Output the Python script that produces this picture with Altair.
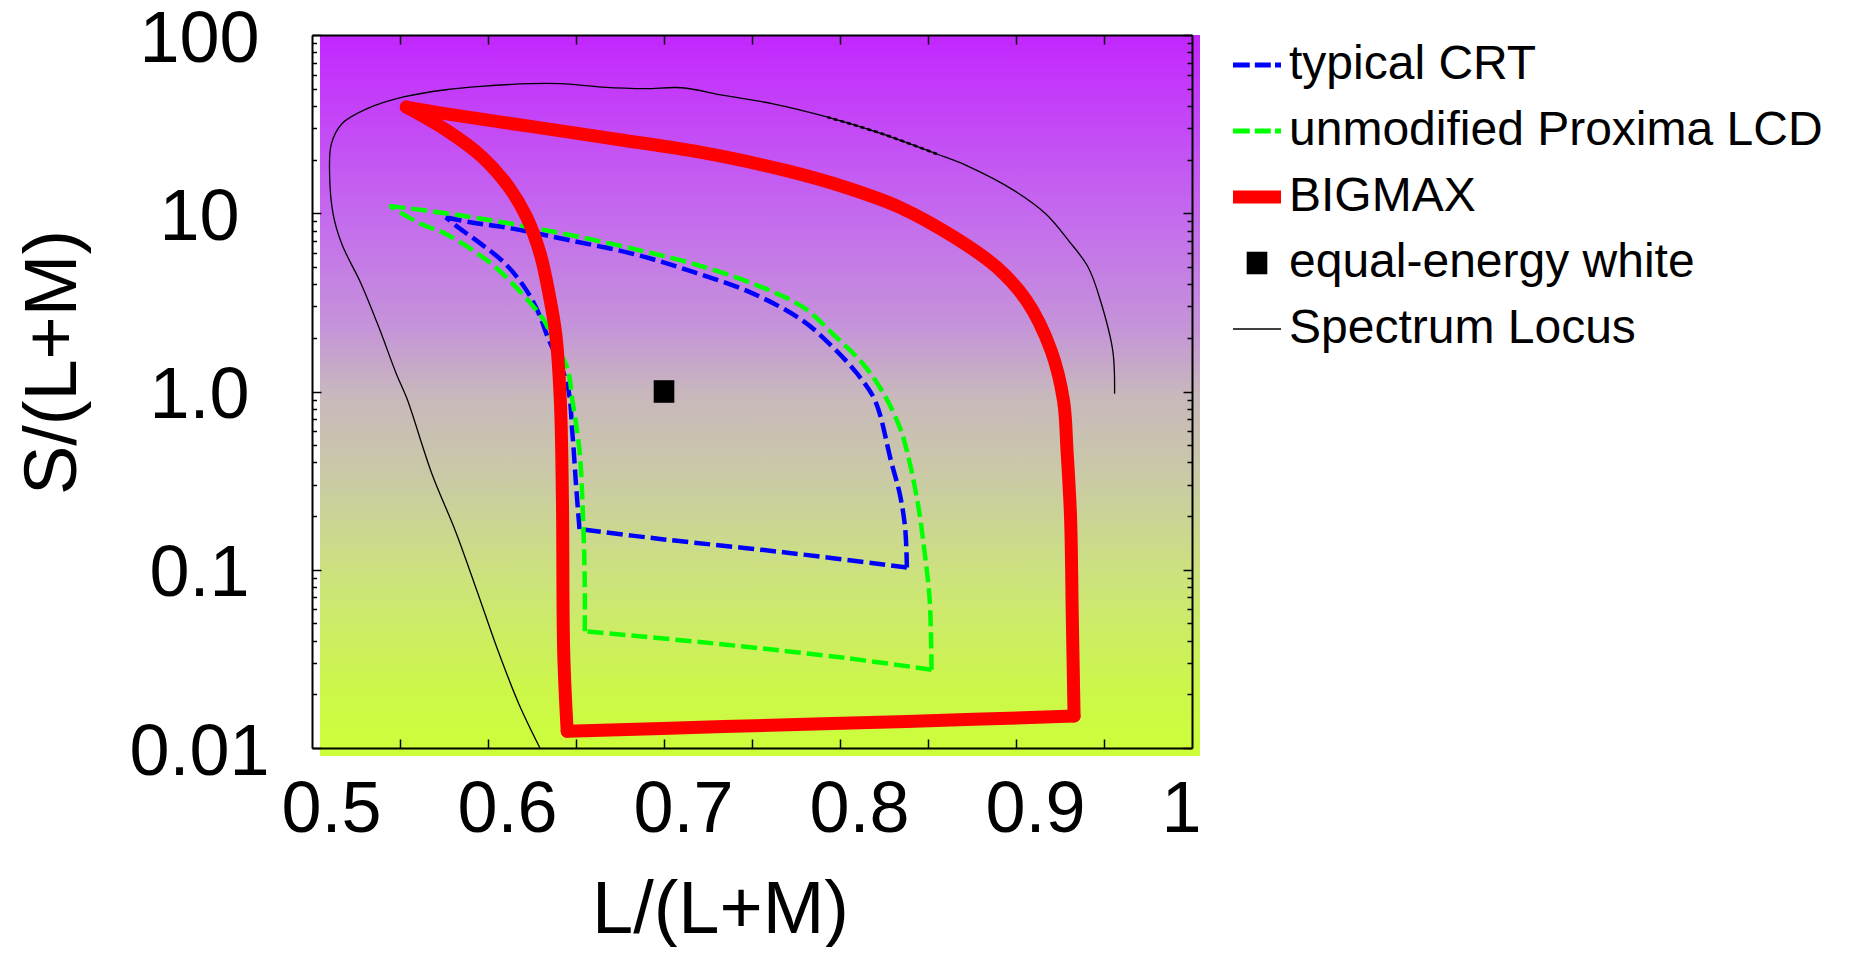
import altair as alt
import pandas as pd

# ---------------- data ----------------
locus_x = [0.956, 0.955, 0.948, 0.941, 0.930, 0.917, 0.899, 0.872, 0.855, 0.824, 0.793, 0.762,
           0.734, 0.710, 0.689, 0.665, 0.641, 0.624, 0.596, 0.576, 0.552, 0.531, 0.517, 0.511,
           0.510, 0.512, 0.517, 0.528, 0.538, 0.548, 0.554, 0.568, 0.5818, 0.5939, 0.6057, 0.6176, 0.6295]
locus_y = [0.97, 1.69, 3.23, 4.98, 7.0, 9.9, 13.4, 18.5, 21.5, 27.9, 34.6, 41.1,
           45.8, 50.6, 50.0, 51.0, 53.3, 53.3, 51.5, 49.3, 44.9, 38.5, 31.8, 24.5,
           16.6, 9.9, 6.7, 4.0, 2.29, 1.25, 0.91, 0.348, 0.162, 0.0753, 0.0351, 0.0176, 0.010]

# BIGMAX gamut outline: apex -> right corner, bottom edge, left corner -> apex
bigmax_top_x = [0.5536, 0.5764, 0.6271, 0.6778, 0.7205, 0.769, 0.803, 0.834, 0.865, 0.889,
                0.906, 0.920, 0.927, 0.929, 0.931, 0.932, 0.933]
bigmax_top_y = [39.4, 36.1, 30.4, 25.6, 22.0, 17.4, 14.0, 10.8, 7.33, 4.98,
                3.23, 1.69, 0.887, 0.465, 0.196, 0.0537, 0.0151]
bigmax_base_x = [0.933, 0.838, 0.734, 0.645]
bigmax_base_y = [0.0151, 0.0141, 0.0132, 0.0124]
bigmax_left_x = [0.645, 0.643, 0.6423, 0.6411, 0.6385, 0.6347, 0.6297, 0.6220, 0.6119, 0.5967,
                 0.5764, 0.5536]
bigmax_left_y = [0.0124, 0.0349, 0.243, 0.887, 2.10, 3.52, 5.9, 9.5, 14.0, 20.7,
                 29.2, 39.4]

# typical CRT gamut outline
crt_top_x = [0.576, 0.590, 0.614, 0.648, 0.683, 0.717, 0.751, 0.779, 0.796, 0.810,
             0.820, 0.829, 0.834, 0.837, 0.838]
crt_top_y = [9.5, 8.9, 8.2, 7.0, 5.9, 4.67, 3.53, 2.49, 1.77, 1.25,
             0.886, 0.407, 0.265, 0.172, 0.103]
crt_base_x = [0.838, 0.769, 0.700, 0.652]
crt_base_y = [0.103, 0.125, 0.148, 0.169]
crt_left_x = [0.652, 0.650, 0.648, 0.645, 0.634, 0.629, 0.622, 0.610, 0.596, 0.583, 0.576]
crt_left_y = [0.169, 0.301, 0.575, 1.10, 2.01, 2.72, 3.68, 5.19, 6.73, 8.34, 9.5]

# unmodified Proxima LCD gamut outline
lcd_top_x = [0.544, 0.579, 0.614, 0.648, 0.683, 0.717, 0.751, 0.779, 0.796, 0.813,
             0.825, 0.834, 0.838, 0.844, 0.848, 0.851, 0.852]
lcd_top_y = [11.0, 9.9, 8.7, 7.5, 6.31, 5.19, 4.01, 2.97, 2.10, 1.43,
             0.966, 0.628, 0.465, 0.243, 0.127, 0.0667, 0.0275]
lcd_base_x = [0.852, 0.803, 0.734, 0.655]
lcd_base_y = [0.0275, 0.032, 0.0381, 0.0452]
lcd_left_x = [0.655, 0.655, 0.654, 0.652, 0.648, 0.645, 0.637, 0.632, 0.6195, 0.602,
              0.576, 0.562, 0.544]
lcd_left_y = [0.0452, 0.0828, 0.196, 0.465, 0.887, 1.36, 1.93, 2.49, 3.52, 5.2,
              7.66, 8.7, 11.0]

white_x = [0.70]
white_y = [1.0]

series_names = ["typical CRT", "unmodified Proxima LCD", "BIGMAX", "equal-energy white", "Spectrum Locus"]

x_domain = [0.5, 1.0]
y_domain = [0.01, 100]
x_major = [0.5, 0.6, 0.7, 0.8, 0.9, 1.0]
x_major_labels = ["0.5", "0.6", "0.7", "0.8", "0.9", "1"]
x_minor = [0.55, 0.6, 0.65, 0.7, 0.75, 0.8, 0.85, 0.9, 0.95]
y_major = [0.01, 0.1, 1, 10, 100]
y_major_labels = ["0.01", "0.1", "1.0", "10", "100"]
y_minor = [m * 10.0 ** e for e in (-2, -1, 0, 1) for m in range(2, 10)]

# ---------------- styles ----------------
FONT = "Liberation Sans"
series_colors = ["#0000ff", "#00ff00", "#ff0000", "#000000", "#000000"]
dash_path = "M-1,-0.1H-0.3V0.1H-1Z M-0.09,-0.1H0.575V0.1H-0.09Z M0.75,-0.1H1V0.1H0.75Z"
legend_paths = [dash_path, dash_path,
                "M-1,-0.27H1V0.27H-1Z",
                "M-0.43,-0.47H0.43V0.47H-0.43Z",
                "M-1,-0.03H1V0.03H-1Z"]

gradient = alt.LinearGradient(
    gradient="linear", x1=0, x2=0, y1=0, y2=1,
    stops=[
        alt.GradientStop(color="#c326ff", offset=0.0),
        alt.GradientStop(color="#c46aee", offset=0.25),
        alt.GradientStop(color="#c592da", offset=0.40),
        alt.GradientStop(color="#c8b8bc", offset=0.50),
        alt.GradientStop(color="#cacba4", offset=0.62),
        alt.GradientStop(color="#cce47a", offset=0.76),
        alt.GradientStop(color="#ccf64c", offset=0.90),
        alt.GradientStop(color="#ccff38", offset=1.0),
    ],
)


def frame(xs, ys, name):
    return pd.DataFrame({"x": xs, "y": ys, "i": list(range(len(xs))), "series": name, "seg": 0})


def outline(name, *segments):
    parts = []
    for k, (xs, ys) in enumerate(segments):
        parts.append(pd.DataFrame({"x": xs, "y": ys, "i": list(range(len(xs))),
                                   "series": name, "seg": k}))
    return pd.concat(parts, ignore_index=True)


def label_expr(values, labels):
    expr = "''"
    for v, lab in zip(reversed(values), reversed(labels)):
        expr = f"abs(datum.value - {v}) < {v * 1e-6 + 1e-12} ? '{lab}' : {expr}"
    return expr


def tick_axis(orient, values, size):
    return alt.Axis(orient=orient, values=values, labels=False, domain=False, ticks=True,
                    tickSize=size, tickWidth=1.5, tickColor="black", offset=-size,
                    title=None, grid=False, zindex=1)


def domain_axis(orient):
    return alt.Axis(orient=orient, labels=False, ticks=False, domain=True, domainColor="black",
                    domainWidth=2, title=None, grid=False, zindex=1)


x_scale = alt.Scale(domain=x_domain, nice=False, zero=False)
y_scale = alt.Scale(type="log", domain=y_domain, nice=False)

main_x_axis = alt.Axis(
    orient="bottom", values=x_major, labelExpr=label_expr(x_major, x_major_labels),
    labelFont=FONT, labelFontSize=72, labelColor="black", labelAlign="left", labelBaseline="top",
    labelOffset=-31, labelPadding=26, labelFlush=False, labelOverlap=False,
    ticks=False, tickSize=0, domain=True, domainColor="black", domainWidth=2, grid=False,
    title="L/(L+M)", titleFont=FONT, titleFontSize=74, titleFontWeight="normal", titleColor="black",
    titleX=408, titleY=184, titleAlign="center", titleBaseline="alphabetic", zindex=1)

main_y_axis = alt.Axis(
    orient="left", values=y_major, labelExpr=label_expr(y_major, y_major_labels),
    labelFont=FONT, labelFontSize=72, labelColor="black", labelAlign="center", labelBaseline="middle",
    labelOffset=4, labelPadding=113, labelFlush=False, labelOverlap=False,
    ticks=False, tickSize=0, domain=True, domainColor="black", domainWidth=2, grid=False,
    title="S/(L+M)", titleFont=FONT, titleFontSize=74, titleFontWeight="normal", titleColor="black",
    titleAngle=270, titleX=-237, titleY=327, titleAlign="center", titleBaseline="alphabetic", zindex=1)

legend = alt.Legend(
    title=None, orient="none", legendX=921, legendY=6, padding=0,
    labelFont=FONT, labelFontSize=48, labelColor="black", labelOffset=8, labelLimit=1000,
    rowPadding=18, symbolSize=2304, symbolStrokeWidth=0, symbolOpacity=1)

# ---------------- layers ----------------
bg_df = pd.DataFrame({"x": [x_domain[0]], "x2": [x_domain[1]], "y": [y_domain[1]], "y2": [y_domain[0]]})
bg = alt.Chart(bg_df).mark_rect(color=gradient, xOffset=8, x2Offset=8, y2Offset=8).encode(
    x=alt.X("x:Q", scale=x_scale, axis=main_x_axis), x2="x2:Q",
    y=alt.Y("y:Q", scale=y_scale, axis=main_y_axis), y2="y2:Q")

locus_df = frame(locus_x, locus_y, "Spectrum Locus")
locus = alt.Chart(locus_df).mark_line(color="black", strokeWidth=1.3, interpolate="catmull-rom").encode(
    x=alt.X("x:Q", scale=x_scale, axis=tick_axis("bottom", x_minor, 9)),
    y=alt.Y("y:Q", scale=y_scale, axis=tick_axis("left", y_major, 9)),
    order="i:Q")

locus_dot = alt.Chart(locus_df).transform_filter(
    "datum.x >= 0.79 && datum.x <= 0.86").mark_line(
    color="black", strokeWidth=2.6, strokeDash=[4, 3], interpolate="catmull-rom").encode(
    x=alt.X("x:Q", scale=x_scale, axis=tick_axis("top", x_minor, 9)),
    y=alt.Y("y:Q", scale=y_scale, axis=tick_axis("left", y_minor, 4.5)),
    order="i:Q")

crt_df = outline("typical CRT", (crt_top_x, crt_top_y), (crt_base_x, crt_base_y), (crt_left_x, crt_left_y))
crt = alt.Chart(crt_df).mark_line(
    color=series_colors[0], strokeWidth=4.5, strokeDash=[16, 6], interpolate="catmull-rom").encode(
    x=alt.X("x:Q", scale=x_scale, axis=domain_axis("top")),
    y=alt.Y("y:Q", scale=y_scale, axis=tick_axis("right", y_major, 9)),
    detail="seg:N", order="i:Q")

lcd_df = outline("unmodified Proxima LCD", (lcd_top_x, lcd_top_y), (lcd_base_x, lcd_base_y),
                 (lcd_left_x, lcd_left_y))
lcd = alt.Chart(lcd_df).mark_line(
    color=series_colors[1], strokeWidth=4.5, strokeDash=[16, 6], interpolate="catmull-rom").encode(
    x=alt.X("x:Q", scale=x_scale, axis=None),
    y=alt.Y("y:Q", scale=y_scale, axis=tick_axis("right", y_minor, 5)),
    detail="seg:N", order="i:Q")

bigmax_df = outline("BIGMAX", (bigmax_top_x, bigmax_top_y), (bigmax_base_x, bigmax_base_y),
                    (bigmax_left_x, bigmax_left_y))
bigmax = alt.Chart(bigmax_df).mark_line(
    color=series_colors[2], strokeWidth=13, strokeCap="round", strokeJoin="round",
    interpolate="catmull-rom").encode(
    x=alt.X("x:Q", scale=x_scale, axis=None),
    y=alt.Y("y:Q", scale=y_scale, axis=domain_axis("right")),
    detail="seg:N", order="i:Q")

white = alt.Chart(frame(white_x, white_y, "equal-energy white")).mark_point(
    filled=True, opacity=1, size=2304, strokeWidth=0).encode(
    x=alt.X("x:Q", scale=x_scale, axis=None),
    y=alt.Y("y:Q", scale=y_scale, axis=None),
    color=alt.Color("series:N", scale=alt.Scale(domain=series_names, range=series_colors), legend=legend),
    shape=alt.Shape("series:N", scale=alt.Scale(domain=series_names, range=legend_paths), legend=legend))

chart = alt.layer(bg, locus, locus_dot, crt, lcd, bigmax, white).resolve_axis(
    x="independent", y="independent").properties(
    width=880, height=713,
    autosize=alt.AutoSizeParams(type="none"),
    padding={"left": 304, "top": 27, "right": 640, "bottom": 199},
).configure_view(stroke=None).configure(background="white")

chart.save("out.html", embed_options={"renderer": "svg", "actions": False})
